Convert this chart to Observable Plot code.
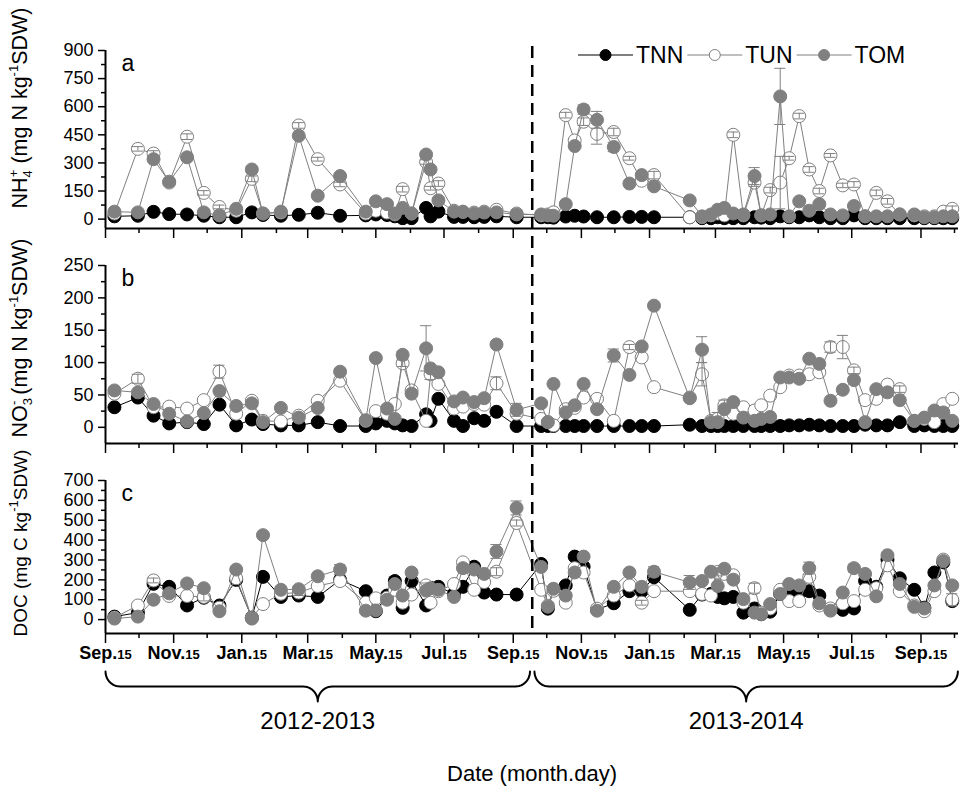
<!DOCTYPE html>
<html><head><meta charset="utf-8">
<script src="https://cdn.jsdelivr.net/npm/d3@7"></script>
<script src="https://cdn.jsdelivr.net/npm/@observablehq/plot@0.6"></script>
<style>
body{margin:0;background:#fff;}
#chart{position:relative;width:963px;height:790px;overflow:hidden;}
#chart svg{position:absolute;left:0;overflow:visible;}
</style></head><body><div id="chart"></div>
<script>
// ---------- data ----------
const dates = ["2012-09-23","2012-10-14","2012-10-28","2012-11-11","2012-11-27","2012-12-12","2012-12-26","2013-01-10","2013-01-24","2013-02-03",
"2013-02-19","2013-03-07","2013-03-24","2013-04-13","2013-05-06","2013-05-15","2013-05-25","2013-06-01","2013-06-08","2013-06-16",
"2013-06-29","2013-07-03","2013-07-10","2013-07-24","2013-08-01","2013-08-11","2013-08-20","2013-08-31","2013-09-18",
"2013-10-10","2013-10-16","2013-10-21","2013-11-01","2013-11-09","2013-11-17","2013-11-29","2013-12-14","2013-12-28","2014-01-08",
"2014-01-19","2014-02-20","2014-03-03","2014-03-11","2014-03-17","2014-03-23","2014-03-31","2014-04-09","2014-04-19","2014-04-25",
"2014-05-03","2014-05-12","2014-05-20","2014-05-29","2014-06-07","2014-06-16","2014-06-26","2014-07-07","2014-07-17","2014-07-27",
"2014-08-06","2014-08-16","2014-08-27","2014-09-09","2014-09-18","2014-09-27","2014-10-05","2014-10-13"];
const seriesNames = ["TNN","TUN","TOM"];

const nh4TNN = [15,18,39,27,25,18,10,10,36,22,18,23,34,18,20,25,22,15,5,5,60,15,40,12,12,10,12,15,10,
  10,10,8,14,18,14,10,10,12,12,10,10,5,5,10,5,5,5,10,8,5,15,10,10,20,10,5,5,20,5,5,5,5,5,5,5,5,5];
const nh4TUN = [30,375,350,195,440,140,65,45,215,30,35,500,320,185,30,45,35,25,160,30,305,165,190,45,40,35,40,50,30,
  20,25,36,555,420,520,455,465,325,205,235,10,10,20,30,20,450,20,195,20,155,195,325,550,265,150,340,180,185,15,140,95,25,20,15,15,40,55];
const nh4TOM = [40,36,320,200,330,36,20,55,265,30,40,445,125,230,40,95,80,30,60,30,345,265,100,40,38,30,35,36,25,
  25,20,18,80,390,585,530,385,190,235,175,100,15,25,50,60,30,25,230,20,25,655,15,95,45,80,25,20,70,15,15,15,25,25,10,10,15,15];

const no3TNN = [31,46,18,6,8,5,35,3,12,5,3,3,8,2,2,6,10,6,3,2,20,10,44,10,2,14,10,24,2,
  2,2,2,2,2,2,2,2,2,2,2,4,2,2,2,2,2,2,2,2,2,2,3,3,4,3,2,2,2,4,3,3,8,2,3,2,2,2];
const no3TUN = [52,75,31,32,29,42,86,21,41,10,9,18,41,72,10,25,21,36,99,57,10,82,67,29,32,36,35,68,21,
  13,8,3,28,30,46,44,10,124,108,62,46,82,10,13,34,21,31,26,34,49,62,80,80,82,85,124,124,88,42,44,66,59,10,13,8,36,44];
const no3TOM = [57,54,36,21,9,22,56,33,37,8,30,15,30,86,11,107,29,13,112,52,122,91,85,40,46,39,45,128,27,
  37,8,67,23,34,67,28,111,81,125,188,45,120,8,8,28,39,15,10,13,16,77,77,75,106,98,41,58,73,8,59,54,42,10,15,26,23,10];

const docTNN = [15,35,180,165,71,110,71,200,10,215,114,121,114,200,143,42,121,194,59,194,71,160,165,130,165,266,136,126,126,
  280,55,150,172,317,266,50,82,143,143,213,49,126,129,114,107,114,35,56,27,40,129,129,129,143,121,49,49,56,194,165,302,208,150,60,237,288,93];
const docTUN = [10,71,197,119,119,114,60,208,8,78,130,136,169,194,85,107,110,150,85,126,172,85,143,179,288,150,189,241,486,
  150,70,145,85,259,237,55,121,172,85,143,143,129,121,240,230,223,85,158,35,56,150,93,93,215,71,56,82,93,150,158,273,143,71,42,143,302,100];
const docTOM = [5,15,100,132,182,158,42,252,5,425,150,153,218,252,45,46,100,179,121,237,146,158,150,114,259,252,230,343,562,
  265,65,155,121,237,317,45,165,237,165,241,187,194,241,169,256,201,103,35,27,78,129,179,172,259,82,45,136,259,230,117,324,179,64,56,172,295,172];

// error bars: [panel, series, sample number (1-based), sd]
const errorBars = [
 ["a","TUN",2,12],["a","TUN",3,15],["a","TUN",5,15],["a","TUN",6,12],["a","TUN",7,10],["a","TUN",9,15],["a","TOM",9,15],
 ["a","TUN",12,15],["a","TUN",13,10],["a","TUN",14,12],["a","TUN",19,15],["a","TUN",21,12],["a","TUN",22,10],["a","TUN",23,15],
 ["a","TUN",33,15],["a","TOM",35,25],["a","TUN",35,20],["a","TUN",36,55],["a","TOM",36,45],["a","TUN",37,20],["a","TOM",37,25],
 ["a","TUN",38,10],["a","TUN",40,20],["a","TUN",46,15],["a","TOM",48,45],["a","TUN",48,20],["a","TUN",50,15],["a","TOM",51,150],
 ["a","TUN",51,140],["a","TUN",52,10],["a","TUN",53,15],["a","TUN",54,15],["a","TUN",55,15],["a","TUN",56,10],["a","TUN",57,12],
 ["a","TUN",58,15],["a","TUN",60,15],["a","TUN",61,15],["a","TUN",67,15],
 ["b","TUN",2,7],["b","TUN",7,10],["b","TUN",19,5],["b","TOM",19,5],["b","TOM",21,35],["b","TUN",22,8],["b","TUN",28,10],
 ["b","TOM",29,10],["b","TOM",37,10],["b","TUN",38,4],["b","TOM",42,20],["b","TUN",42,18],["b","TUN",44,10],["b","TUN",45,8],
 ["b","TUN",56,8],["b","TUN",57,18],["b","TUN",58,5],["b","TUN",62,5],
 ["c","TUN",3,12],["c","TNN",5,15],["c","TOM",5,10],["c","TUN",6,20],["c","TNN",7,12],["c","TOM",10,5],["c","TUN",12,15],
 ["c","TOM",12,15],["c","TOM",14,25],["c","TNN",18,20],["c","TUN",21,12],["c","TOM",28,35],["c","TUN",28,20],["c","TOM",29,35],
 ["c","TUN",29,15],["c","TOM",35,10],["c","TUN",39,12],["c","TOM",40,25],["c","TOM",41,35],["c","TUN",44,20],["c","TUN",48,25],
 ["c","TOM",54,30],["c","TOM",58,20],["c","TOM",61,12],["c","TNN",62,20],["c","TOM",66,15],["c","TUN",67,30]
];

const majorTickDates = ["2012-09-15","2012-11-15","2013-01-15","2013-03-15","2013-05-15","2013-07-15","2013-09-15",
  "2013-11-15","2014-01-15","2014-03-15","2014-05-15","2014-07-15","2014-09-15"];
const minorTickDates = ["2012-10-15","2012-12-15","2013-02-15","2013-04-15","2013-06-15","2013-08-15","2013-10-15",
  "2013-12-15","2014-02-15","2014-04-15","2014-06-15","2014-08-15","2014-10-15"];
const tickLabels = ["Sep.15","Nov.15","Jan.15","Mar.15","May.15","Jul.15","Sep.15","Nov.15","Jan.15","Mar.15","May.15","Jul.15","Sep.15"];
const splitDate = "2013-10-02";
const yearLabels = ["2012-2013","2013-2014"];
const yearSpans = [["2012-09-15","2013-09-30"],["2013-10-04","2014-10-18"]];
const xTitle = "Date (month.day)";
const xDomainDates = ["2012-09-15","2014-10-18T14:00:00Z"];

// ---------- layout & style ----------
const W = 963, ML = 105, MR = 5;
const GRAY = "#808080";
const FONT = "'Liberation Sans', Arial, Helvetica, sans-serif";
const NARROW = "'Liberation Sans Narrow', 'Arial Narrow', 'Liberation Sans', Arial, sans-serif";
const look = {
  TNN: {fill: "black", stroke: "black", line: "black"},
  TUN: {fill: "white", stroke: GRAY, line: GRAY},
  TOM: {fill: GRAY, stroke: GRAY, line: GRAY}
};
const D = s => new Date(s);
const parsed = dates.map(D);
const xDomain = xDomainDates.map(D);
const majorTicks = majorTickDates.map(D), minorTicks = minorTickDates.map(D);
const labelMap = new Map(majorTicks.map((d, i) => [+d, tickLabels[i]]));
const shift = (d, days) => new Date(+d + days * 864e5);

const panels = [
  {key: "a", values: {TNN: nh4TNN, TUN: nh4TUN, TOM: nh4TOM}, domain: [-50, 900],
   major: [0,150,300,450,600,750,900], minor: [75,225,375,525,675,825], top: 50, bottom: 228},
  {key: "b", values: {TNN: no3TNN, TUN: no3TUN, TOM: no3TOM}, domain: [-25, 250],
   major: [0,50,100,150,200,250], minor: [25,75,125,175,225], top: 265, bottom: 443},
  {key: "c", values: {TNN: docTNN, TUN: docTUN, TOM: docTOM}, domain: [-70, 700],
   major: [0,100,200,300,400,500,600,700], minor: [50,150,250,350,450,550,650], top: 480, bottom: 633}
];

const chart = document.getElementById("chart");

panels.forEach((p, pi) => {
  const last = pi === panels.length - 1;
  const mt = 10, mb = last ? 48 : 14;
  const rows = [];
  seriesNames.forEach(s => p.values[s].forEach((v, i) => rows.push({date: parsed[i], value: v, series: s})));
  const errs = errorBars.filter(e => e[0] === p.key).map(([k, s, n, e]) => {
    const v = p.values[s][n - 1];
    return {date: parsed[n - 1], series: s, lo: v - e, hi: v + e};
  });
  const marks = [
    Plot.axisY({ticks: p.major, tickSize: 7, tickPadding: 5, fontSize: 18, strokeWidth: 1.5, label: null, fontFamily: FONT}),
    Plot.axisY({ticks: p.minor, tickSize: 4, tickFormat: () => "", strokeWidth: 1.5, label: null}),
    Plot.axisX({ticks: majorTicks, tickSize: 10, tickPadding: 8, strokeWidth: 1.5, label: null,
      tickFormat: last ? (d => labelMap.get(+d)) : () => "", fontWeight: "bold", fontFamily: NARROW}),
    Plot.axisX({ticks: minorTicks, tickSize: 5, strokeWidth: 1.5, label: null, tickFormat: () => ""}),
    Plot.ruleX([xDomain[0]], {strokeWidth: 2}),
    Plot.ruleY([p.domain[0]], {strokeWidth: 2})
  ];
  for (const s of seriesNames) {
    const st = look[s];
    const r = rows.filter(d => d.series === s);
    const er = errs.filter(d => d.series === s);
    marks.push(
      Plot.line(r, {x: "date", y: "value", stroke: st.line, strokeWidth: 1}),
      Plot.dot(r, {x: "date", y: "value", r: 6.5, fill: st.fill, stroke: st.stroke, strokeWidth: 1}),
      Plot.ruleX(er, {x: "date", y1: "lo", y2: "hi", stroke: st.stroke, strokeWidth: 1}),
      Plot.ruleY(er, {y: "hi", x1: d => shift(d.date, -5), x2: d => shift(d.date, 5), stroke: st.stroke, strokeWidth: 1}),
      Plot.ruleY(er, {y: "lo", x1: d => shift(d.date, -5), x2: d => shift(d.date, 5), stroke: st.stroke, strokeWidth: 1})
    );
  }
  marks.push(Plot.text([p.key], {x: () => xDomain[0], y: () => p.domain[1], text: d => d, dx: 16, dy: 13,
    textAnchor: "start", fontSize: 23, fontFamily: FONT}));
  const svg = Plot.plot({
    width: W, height: mt + (p.bottom - p.top) + mb,
    marginLeft: ML, marginRight: MR, marginTop: mt, marginBottom: mb,
    x: {type: "utc", domain: xDomain},
    y: {domain: p.domain},
    style: {fontFamily: FONT, background: "transparent", overflow: "visible", color: "black"},
    marks
  });
  svg.style.top = (p.top - mt) + "px";
  if (last) {
    d3.select(svg).selectAll('g[aria-label="x-axis tick label"] text').each(function () {
      const s = this.textContent;
      if (!s) return;
      const [m, dd] = s.split(".");
      const t = d3.select(this);
      t.text(null);
      t.append("tspan").text(m + ".").style("font-size", "18px");
      t.append("tspan").text(dd).style("font-size", "13px");
    });
  }
  chart.appendChild(svg);
});

// ---------- overlay: split line, braces, year labels, titles, legend ----------
function brace(a, b, k) {
  const A = +a, B = +b, M = (A + B) / 2, rd = 13 * 864e5, y0 = 671, ry = 15, y2 = y0 + 2 * ry, n = 12, pts = [];
  const P = (x, y) => pts.push({x: new Date(x), y, k});
  for (let i = 0; i <= n; i++) { const t = i / n * Math.PI / 2; P(A + rd * (1 - Math.cos(t)), y0 + ry * Math.sin(t)); }
  for (let i = 0; i <= n; i++) { const t = i / n * Math.PI / 2; P(M - rd + rd * Math.sin(t), y2 - ry * Math.cos(t)); }
  for (let i = 0; i <= n; i++) { const t = i / n * Math.PI / 2; P(M + rd * (1 - Math.cos(t)), y2 - ry * Math.sin(t)); }
  for (let i = 0; i <= n; i++) { const t = i / n * Math.PI / 2; P(B - rd + rd * Math.sin(t), y0 + ry * Math.cos(t)); }
  return pts;
}
const braceRows = yearSpans.flatMap(([a, b], i) => brace(D(a), D(b), i));
const yearRows = yearSpans.map(([a, b], i) => ({mid: new Date((+D(a) + +D(b)) / 2), label: yearLabels[i]}));

const overlay = Plot.plot({
  width: W, height: 790, marginLeft: ML, marginRight: MR, marginTop: 0, marginBottom: 0,
  x: {type: "utc", domain: xDomain, axis: null},
  y: {domain: [0, 790], range: [0, 790], axis: null},
  style: {fontFamily: FONT, background: "transparent", overflow: "visible", color: "black"},
  marks: [
    Plot.ruleX([D(splitDate)], {y1: 46, y2: 630, strokeWidth: 2.5, strokeDasharray: "12,7"}),
    Plot.line(braceRows, {x: "x", y: "y", z: "k", strokeWidth: 2}),
    Plot.text(yearRows, {x: "mid", y: () => 721, text: "label", fontSize: 24, fontFamily: NARROW}),
    Plot.text([xTitle], {x: () => new Date((+xDomain[0] + +xDomain[1]) / 2), y: () => 773, text: d => d, fontSize: 22, fontFamily: NARROW})
  ]
});
overlay.style.top = "0px";
overlay.style.pointerEvents = "none";
chart.appendChild(overlay);

const ov = d3.select(overlay);
// rotated y-axis titles with sub/superscripts
const titles = [
  {cy: 108, size: 21.5, parts: [["NH"], ["4", "sub"], ["+", "supstack"], [" (mg N kg"], ["-1", "sup"], ["SDW)"]]},
  {cy: 338, size: 21.5, parts: [["NO"], ["3", "sub"], ["-", "supstack"], [" (mg N kg"], ["-1", "sup"], ["SDW)"]]},
  {cy: 543, size: 19, parts: [["DOC (mg C kg"], ["-1", "sup"], ["SDW)"]]}
];
titles.forEach(tt => {
  const t = ov.append("text").attr("transform", `translate(27,${tt.cy}) rotate(-90)`)
    .attr("text-anchor", "middle").style("font-size", tt.size + "px").style("font-family", FONT);
  let base = 0;
  tt.parts.forEach(([txt, kind]) => {
    const sp = t.append("tspan").text(txt);
    let target = 0;
    if (kind === "sub") { target = 5; sp.style("font-size", "13px"); }
    if (kind === "sup" || kind === "supstack") { target = -9; sp.style("font-size", "13px"); }
    if (kind === "supstack") sp.attr("dx", -7);
    sp.attr("dy", target - base);
    base = target;
  });
});
// legend
const legend = ov.append("g").style("font-family", FONT).style("font-size", "23px").attr("text-anchor", "start");
let lx = 578;
seriesNames.forEach(s => {
  const st = look[s];
  legend.append("line").attr("x1", lx).attr("x2", lx + 55).attr("y1", 55).attr("y2", 55)
    .attr("stroke", st.line).attr("stroke-width", 1.2);
  legend.append("circle").attr("cx", lx + 27.5).attr("cy", 55).attr("r", 5.5)
    .attr("fill", st.fill).attr("stroke", st.stroke).attr("stroke-width", 1);
  const tx = legend.append("text").attr("x", lx + 58).attr("y", 63).attr("text-anchor", "start").text(s);
  lx += 58 + tx.node().getComputedTextLength() + 4;
});
</script></body></html>
